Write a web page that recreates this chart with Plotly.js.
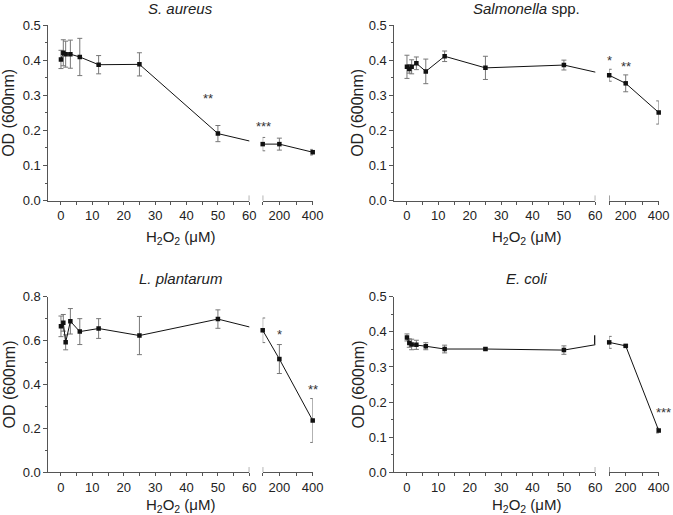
<!DOCTYPE html>
<html>
<head>
<meta charset="utf-8">
<script src="https://cdn.plot.ly/plotly-3.0.1.min.js"></script>
<style>html,body{margin:0;padding:0;background:#fff}#chart{width:673px;height:515px}</style>
</head>
<body>
<div id="chart"></div>
<script>
// ---------------- data ----------------
const concentrations = [0, 0.75, 1.5, 3, 6, 12, 25, 50, 100, 200, 400];
const panelTitles = ['<i>S. aureus</i>', '<i>Salmonella</i> spp.', '<i>L. plantarum</i>', '<i>E. coli</i>'];

const sAureusOD  = [0.402, 0.421, 0.417, 0.417, 0.409, 0.387, 0.388, 0.191, 0.161, 0.161, 0.138];
const sAureusErr = [0.026, 0.037, 0.037, 0.040, 0.053, 0.026, 0.033, 0.023, 0.019, 0.017, 0.008];

const salmonellaOD  = [0.381, 0.375, 0.381, 0.391, 0.368, 0.411, 0.378, 0.386, 0.357, 0.334, 0.251];
const salmonellaErr = [0.033, 0.012, 0.020, 0.018, 0.035, 0.015, 0.033, 0.014, 0.017, 0.024, 0.033];

const lPlantarumOD  = [0.665, 0.681, 0.592, 0.688, 0.641, 0.655, 0.623, 0.698, 0.647, 0.516, 0.236];
const lPlantarumErr = [0.047, 0.038, 0.034, 0.058, 0.059, 0.045, 0.087, 0.042, 0.056, 0.066, 0.100];

const eColiOD  = [0.384, 0.368, 0.364, 0.363, 0.359, 0.351, 0.351, 0.348, 0.370, 0.360, 0.119];
const eColiErr = [0.010, 0.012, 0.015, 0.013, 0.010, 0.011, 0.003, 0.012, 0.017, 0.003, 0.007];
const eColiBreakMark = [0.364, 0.390];

// significance labels: [text, x, y, segment]
const sAureusStars    = [['**', 46.9, 0.291, 'left'], ['***', 104, 0.210, 'right']];
const salmonellaStars = [['*', 100, 0.400, 'right'], ['**', 204, 0.383, 'right']];
const lPlantarumStars = [['*', 200, 0.628, 'right'], ['**', 400, 0.375, 'right']];
const eColiStars      = [['***', 400, 0.170, 'right']];

const xLeftTicks = [0, 10, 20, 30, 40, 50, 60];
const xRightTicks = [200, 400];

// ---------------- layout geometry (pixels) ----------------
const W = 673, H = 515;
const FONT = 'Arial, "Liberation Sans", sans-serif';
const cols = [
  {l0: 48.4, l1: 249.3, r0: 262.7, r1: 312.7, ytitle: 9},
  {l0: 394.4, l1: 595.3, r0: 609.2, r1: 658.7, ytitle: 358}
];
const rows = [{top: 25, bot: 200.7, title: 8, xtitle: 237}, {top: 296.7, bot: 472.3, title: 278, xtitle: 505.5}];
const panels = [
  {od: sAureusOD, err: sAureusErr, stars: sAureusStars, ymax: 0.5, dy: 0.1, col: 0, row: 0},
  {od: salmonellaOD, err: salmonellaErr, stars: salmonellaStars, ymax: 0.5, dy: 0.1, col: 1, row: 0},
  {od: lPlantarumOD, err: lPlantarumErr, stars: lPlantarumStars, ymax: 0.8, dy: 0.2, col: 0, row: 1},
  {od: eColiOD, err: eColiErr, stars: eColiStars, ymax: 0.5, dy: 0.1, col: 1, row: 1}
];
const LEFT_RANGE = [-4, 60];
const RIGHT_RANGE = [100, 400];

const px = v => v / W, py = v => 1 - v / H;
const axisStyle = {
  showline: true, linecolor: '#555', linewidth: 1, ticks: 'outside', tickcolor: '#555',
  tickwidth: 1, showgrid: false, zeroline: false, fixedrange: true,
  tickfont: {family: FONT, size: 13, color: '#222'}
};

const data = [], shapes = [], annotations = [];
const layout = {
  width: W, height: H, margin: {l: 0, r: 0, t: 0, b: 0},
  paper_bgcolor: '#fff', plot_bgcolor: 'rgba(0,0,0,0)', showlegend: false,
  font: {family: FONT, color: '#222'}
};

panels.forEach((p, i) => {
  const c = cols[p.col], r = rows[p.row];
  const xl = 'x' + (i === 0 ? '' : 2 * i + 1), xr = 'x' + (2 * i + 2);
  const yid = 'y' + (i === 0 ? '' : i + 1);
  const xlName = 'xaxis' + (i === 0 ? '' : 2 * i + 1), xrName = 'xaxis' + (2 * i + 2);
  const yName = 'yaxis' + (i === 0 ? '' : i + 1);

  layout[xlName] = Object.assign({}, axisStyle, {
    domain: [px(c.l0), px(c.l1)], range: LEFT_RANGE, anchor: yid,
    tickmode: 'array', tickvals: xLeftTicks, ticklen: 3,
    minor: {dtick: 5, tick0: 0, ticklen: 3, tickcolor: '#555', ticks: 'outside', showgrid: false}
  });
  layout[xrName] = Object.assign({}, axisStyle, {
    domain: [px(c.r0), px(c.r1)], range: RIGHT_RANGE, anchor: yid,
    tickmode: 'array', tickvals: xRightTicks, ticklen: 3,
    minor: {dtick: 100, tick0: 0, ticklen: 3, tickcolor: '#555', ticks: 'outside', showgrid: false}
  });
  layout[yName] = Object.assign({}, axisStyle, {
    domain: [py(r.bot), py(r.top)], range: [0, p.ymax], anchor: xl, dtick: p.dy, tick0: 0, ticklen: 4,
    tickformat: '.1f',
    minor: {dtick: p.dy / 2, ticklen: 2, tickcolor: '#555', ticks: 'outside', showgrid: false}
  });

  // position of the first post-break point expressed in left-axis units (for the connecting line)
  const pxPerUnit = (c.l1 - c.l0) / (LEFT_RANGE[1] - LEFT_RANGE[0]);
  const contX = LEFT_RANGE[1] + (c.r0 - c.l1) / pxPerUnit;
  const idx = concentrations.map((x, k) => k);
  const leftIdx = idx.filter(k => concentrations[k] <= RIGHT_RANGE[0]);
  const rightIdx = idx.filter(k => concentrations[k] >= RIGHT_RANGE[0]);

  const common = {
    mode: 'lines+markers', type: 'scatter', hoverinfo: 'skip',
    line: {color: '#111', width: 1},
    marker: {symbol: 'square', size: 4.5, color: '#111'}
  };
  data.push(Object.assign({}, common, {
    x: leftIdx.map(k => concentrations[k] > LEFT_RANGE[1] ? contX : concentrations[k]),
    y: leftIdx.map(k => p.od[k]),
    error_y: {type: 'data', array: leftIdx.map(k => p.err[k]), color: '#777', thickness: 1, width: 2.5},
    xaxis: xl, yaxis: yid, cliponaxis: true
  }));
  data.push(Object.assign({}, common, {
    x: rightIdx.map(k => concentrations[k]),
    y: rightIdx.map(k => p.od[k]),
    error_y: {type: 'data', array: rightIdx.map(k => p.err[k]), color: '#777', thickness: 1, width: 2.5},
    xaxis: xr, yaxis: yid, cliponaxis: false
  }));

  // axis break marks
  shapes.push({type: 'line', xref: xl, yref: yid + ' domain', x0: LEFT_RANGE[1], x1: LEFT_RANGE[1], y0: 0, y1: 0.03, line: {color: '#555', width: 1}});
  shapes.push({type: 'line', xref: xr, yref: yid + ' domain', x0: RIGHT_RANGE[0], x1: RIGHT_RANGE[0], y0: 0, y1: 0.03, line: {color: '#555', width: 1}});

  // titles
  const cx = (c.l0 + c.r1) / 2;
  annotations.push({text: panelTitles[i], xref: 'paper', yref: 'paper', x: px(cx), y: py(r.title),
    xanchor: 'center', yanchor: 'middle', showarrow: false, font: {family: FONT, size: 15, color: '#222'}});
  annotations.push({text: 'H<sub>2</sub>O<sub>2</sub> (\u03bcM)', xref: 'paper', yref: 'paper', x: px(cx), y: py(r.xtitle),
    xanchor: 'center', yanchor: 'middle', showarrow: false, font: {family: FONT, size: 15, color: '#222'}});
  annotations.push({text: 'OD (600nm)', xref: 'paper', yref: 'paper', x: px(c.ytitle), y: py((r.top + r.bot) / 2),
    xanchor: 'center', yanchor: 'middle', textangle: -90, showarrow: false, font: {family: FONT, size: 16, color: '#222'}});

  p.stars.forEach(s => {
    const isEdge = s[1] >= RIGHT_RANGE[1] && p.stars.length === 1;
    annotations.push({text: s[0], xref: s[3] === 'left' ? xl : xr, yref: yid, x: s[1], y: s[2],
      xanchor: isEdge ? 'left' : 'center', xshift: isEdge ? -5 : 0,
      yanchor: 'middle', showarrow: false, font: {family: FONT, size: 13, color: '#333'}});
  });

  if (i === 3) {
    data.push({type: 'scatter', mode: 'lines', x: [LEFT_RANGE[1], LEFT_RANGE[1]], y: eColiBreakMark,
      xaxis: xl, yaxis: yid, cliponaxis: false, hoverinfo: 'skip', line: {color: '#111', width: 2.5}});
  }
});

layout.shapes = shapes;
layout.annotations = annotations;
Plotly.newPlot('chart', data, layout, {staticPlot: true, displayModeBar: false});
</script>
</body>
</html>
